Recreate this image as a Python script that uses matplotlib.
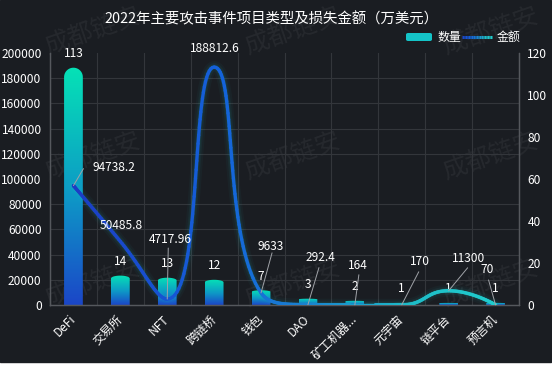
import numpy as np
import matplotlib
matplotlib.use("Agg")
import matplotlib.pyplot as plt
from matplotlib.path import Path
from matplotlib.patches import PathPatch, Rectangle, FancyBboxPatch
from matplotlib.collections import LineCollection
from matplotlib.colors import LinearSegmentedColormap
from matplotlib.ticker import StrMethodFormatter

plt.rcParams['font.family'] = ['Noto Sans CJK SC', 'DejaVu Sans']

# ---- data ----
CATEGORIES = ["DeFi", "交易所", "NFT", "跨链桥", "钱包", "DAO", "矿工机器...", "元宇宙", "链平台", "预言机"]
COUNTS = [113, 14, 13, 12, 7, 3, 2, 1, 1, 1]
LOSSES = [94738.2, 50485.8, 4717.96, 188812.6, 9633, 292.4, 164, 170, 11300, 70]
LOSS_LABELS = ["94738.2", "50485.8", "4717.96", "188812.6", "9633", "292.4", "164", "170", "11300", "70"]
TITLE = "2022年主要攻击事件项目类型及损失金额（万美元）"

# label placement for the loss line (pixels): text offset, leader end offset
LABEL_OFFSETS = [(40, 18), (1, 16), (3, 60), (1, 19), (10, 46), (12, 47), (3, 39), (18, 43), (20, 32), (-8, 35)]
LEADER_ENDS = [(10, 17), None, (1, 51), None, (11, 40), (11, 37), (4, 30), (17, 33), (19, 23), (-7, 25)]

W, H = 552, 371
BG = "#1a1d22"
GRID = "#33363b"
AXIS = "#55585d"
TEXT = "#ffffff"
FS = 8.6

bar_cmap = LinearSegmentedColormap.from_list(
    "bar", [(0, "#1b46c8"), (0.45, "#0e97c6"), (1, "#05e2b6")])
line_cmap = LinearSegmentedColormap.from_list(
    "line", [(0, "#1c3cc4"), (0.35, "#1462da"), (0.55, "#1a82d0"), (0.8, "#1ebcc8"), (1, "#20cccc")])


def echarts_smooth(px, py, smooth=0.5, n=40):
    """Bezier smoothing like echarts' smooth:true (with constraint)."""
    m = len(px)
    t = np.linspace(0, 1, n)[:, None]
    out = [np.array([[px[0], py[0]]])]
    cp0 = (px[0], py[0])
    for i in range(1, m):
        x, y = px[i], py[i]
        prx, pry = px[i - 1], py[i - 1]
        if i == m - 1:
            cp1 = (x, y)
            ncp0 = None
        else:
            nx, ny = px[i + 1], py[i + 1]
            vx, vy = nx - prx, ny - pry
            lp = np.hypot(x - prx, y - pry)
            ln = np.hypot(nx - x, ny - y)
            r = ln / (ln + lp)
            ncx = x + vx * smooth * r
            ncy = y + vy * smooth * r
            ncx = max(min(ncx, max(nx, x)), min(nx, x))
            ncy = max(min(ncy, max(ny, y)), min(ny, y))
            vx, vy = ncx - x, ncy - y
            c1x = x - vx * lp / ln
            c1y = y - vy * lp / ln
            c1x = max(min(c1x, max(prx, x)), min(prx, x))
            c1y = max(min(c1y, max(pry, y)), min(pry, y))
            vx, vy = x - c1x, y - c1y
            ncp0 = (x + vx * ln / lp, y + vy * ln / lp)
            cp1 = (c1x, c1y)
        p0 = np.array([prx, pry])
        p3 = np.array([x, y])
        b = ((1 - t) ** 3 * p0 + 3 * (1 - t) ** 2 * t * np.array(cp0)
             + 3 * (1 - t) * t ** 2 * np.array(cp1) + t ** 3 * p3)
        out.append(b[1:])
        cp0 = ncp0
    pts = np.vstack(out)
    return pts[:, 0], pts[:, 1]


fig = plt.figure(figsize=(W / 100, H / 100), dpi=100)
fig.patch.set_facecolor("white")
fig.add_artist(Rectangle((0, 9 / H), 551 / W, 1 - 9 / H, transform=fig.transFigure,
                         color=BG, zorder=-10))

# watermark
for wy in (31, 156, 283):
    for wx in (92, 292, 490):
        fig.text(wx / W, 1 - wy / H, "成都链安", rotation=19, ha="center", va="center",
                 fontsize=18, color="white", alpha=0.055, zorder=-5)

ax = fig.add_axes([50 / W, 1 - 305 / H, 469 / W, 252 / H])
ax.set_facecolor("none")
ax2 = ax.twinx()

n = len(CATEGORIES)
xs = np.arange(n)

# grid
ax.set_yticks(np.arange(0, 121, 20))
ax.set_yticks(np.arange(0, 121, 12), minor=True)
ax.set_xticks(xs)
ax.set_xticks(np.arange(-0.5, n, 1), minor=True)
ax.grid(which="minor", color=GRID, lw=0.8)
ax.set_axisbelow(True)
ax.tick_params(which="both", length=0)
ax.yaxis.tick_right()
ax.tick_params(axis="y", colors=TEXT, labelsize=FS, pad=6)
ax.set_xticklabels(CATEGORIES, rotation=45, ha="right", va="center", rotation_mode="anchor",
                   color=TEXT, fontsize=FS)
ax.tick_params(axis="x", pad=9)

ax2.set_yticks(np.arange(0, 200001, 20000))
ax2.yaxis.set_major_formatter(StrMethodFormatter("{x:.0f}"))
ax2.yaxis.tick_left()
ax2.tick_params(axis="y", colors=TEXT, labelsize=FS, pad=6, length=0)

for a in (ax, ax2):
    for s in a.spines.values():
        s.set_color(AXIS)
        s.set_linewidth(0.9)
    a.spines["top"].set_visible(False)

# bars with gradient + rounded top
px_per_x = 469 / n
px_per_c = 252 / 120
bw = 0.4
grad = np.linspace(0, 1, 256)[:, None]
for x, c in zip(xs, COUNTS):
    h_px = c * px_per_c
    rx = bw / 2
    ry = min(rx * px_per_x, 0.1 * h_px) / px_per_c
    th = np.linspace(np.pi, 0, 30)
    arc = np.column_stack([x + rx * np.cos(th), c - ry + ry * np.sin(th)])
    verts = np.vstack([[x - rx, 0], arc, [x + rx, 0], [x - rx, 0]])
    codes = [Path.MOVETO] + [Path.LINETO] * (len(verts) - 2) + [Path.CLOSEPOLY]
    patch = PathPatch(Path(verts, codes), facecolor="none", edgecolor="none")
    ax.add_patch(patch)
    im = ax.imshow(grad, cmap=bar_cmap, origin="lower", aspect="auto",
                   extent=[x - rx, x + rx, 0, c], zorder=2)
    im.set_clip_path(patch)
    ax.annotate(str(c), (x, c), xytext=(0, 14), textcoords="offset pixels",
                ha="center", va="center", color=TEXT, fontsize=FS, zorder=5)
ax.set_xlim(-0.5, n - 0.5)
ax.set_ylim(0, 120)
ax2.set_ylim(0, 200000)

# smoothed loss line
px_per_l = 252 / 200000
cx, cy = echarts_smooth(xs * px_per_x, np.array(LOSSES) * px_per_l)
lx, ly = cx / px_per_x, cy / px_per_l
for lw, al in ((12, 0.04), (8, 0.06), (5, 0.09)):
    ax2.plot(lx, ly, color="#1fc8c8", lw=lw * 0.72, alpha=al, solid_capstyle="round", zorder=3)
pts = np.column_stack([lx, ly]).reshape(-1, 1, 2)
segs = np.concatenate([pts[:-1], pts[1:]], axis=1)
lc = LineCollection(segs, colors=line_cmap((lx[:-1] + lx[1:]) / 2 / (n - 1)),
                    linewidths=2.4, capstyle="round", zorder=4)
ax2.add_collection(lc)

for i, (v, lab) in enumerate(zip(LOSSES, LOSS_LABELS)):
    dx, dy = LABEL_OFFSETS[i]
    if LEADER_ENDS[i] is not None:
        ax2.annotate("", xy=(i, v), xytext=LEADER_ENDS[i], textcoords="offset pixels",
                     arrowprops=dict(arrowstyle="-", color="#a0a3a8", lw=0.7,
                                     shrinkA=0, shrinkB=0), zorder=5)
    ax2.annotate(lab, (i, v), xytext=(dx, dy), textcoords="offset pixels",
                 ha="center", va="center", color=TEXT, fontsize=FS, zorder=6)
ax2.set_xlim(-0.5, n - 0.5)

# title
fig.text(271 / W, 1 - 19 / H, TITLE, ha="center", va="center", color=TEXT, fontsize=10.4)

# legend
fig.add_artist(FancyBboxPatch((406 / W, 1 - 41 / H), 26 / W, 8 / H,
                              boxstyle="round,pad=0,rounding_size=0.004",
                              transform=fig.transFigure, color="#14c4c8", lw=0))
fig.text(438 / W, 1 - 37 / H, "数量", ha="left", va="center", color=TEXT, fontsize=FS)
lg = np.linspace(462, 492, 20)
lsegs = [[(lg[k] / W, 1 - 37 / H), (lg[k + 1] / W, 1 - 37 / H)] for k in range(len(lg) - 1)]
fig.add_artist(LineCollection(lsegs, colors=line_cmap(np.linspace(0.1, 1, len(lsegs))),
                              linewidths=2.2, transform=fig.transFigure))
fig.text(497 / W, 1 - 37 / H, "金额", ha="left", va="center", color=TEXT, fontsize=FS)

fig.savefig("out.png", dpi=100, facecolor=fig.get_facecolor())
